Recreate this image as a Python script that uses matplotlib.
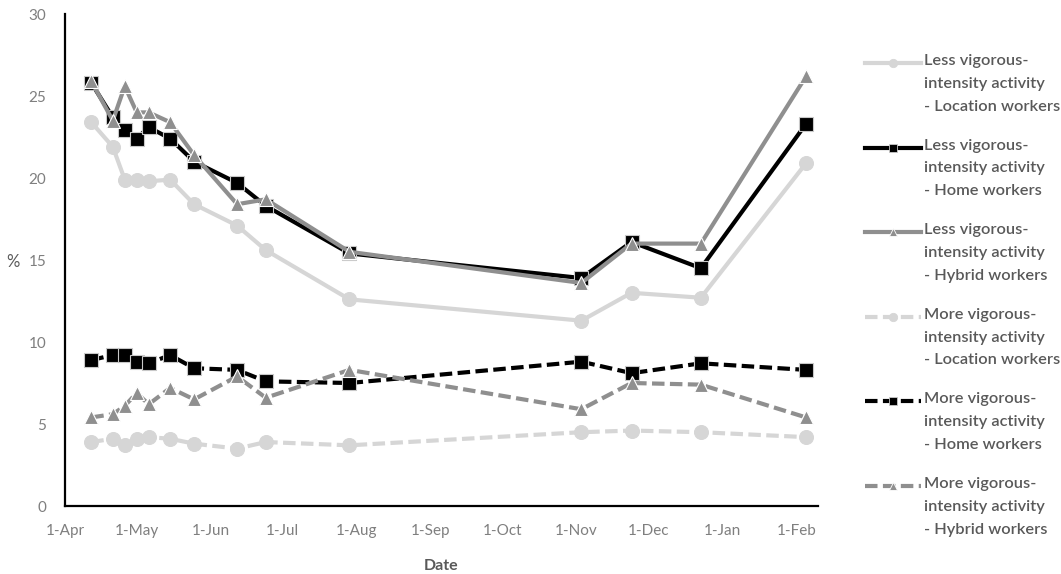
import pandas as pd
import matplotlib.pyplot as plt
from matplotlib.lines import Line2D

plt.rcParams['font.family'] = ['Lato', 'DejaVu Sans']

dates = ['2020-04-12', '2020-04-21', '2020-04-26', '2020-05-01', '2020-05-06',
         '2020-05-15', '2020-05-25', '2020-06-12', '2020-06-24', '2020-07-29',
         '2020-11-03', '2020-11-24', '2020-12-23', '2021-02-05']

less_location = [23.4, 21.9, 19.9, 19.9, 19.8, 19.9, 18.4, 17.1, 15.6, 12.6, 11.3, 13.0, 12.7, 20.9]
less_home = [25.8, 23.7, 22.9, 22.4, 23.1, 22.4, 21.0, 19.7, 18.3, 15.4, 13.9, 16.1, 14.5, 23.3]
less_hybrid = [25.9, 23.5, 25.6, 24.0, 24.0, 23.4, 21.4, 18.4, 18.7, 15.5, 13.6, 16.0, 16.0, 26.2]
more_location = [3.9, 4.1, 3.7, 4.1, 4.2, 4.1, 3.8, 3.5, 3.9, 3.7, 4.5, 4.6, 4.5, 4.2]
more_home = [8.9, 9.2, 9.2, 8.8, 8.7, 9.2, 8.4, 8.3, 7.6, 7.5, 8.8, 8.1, 8.7, 8.3]
more_hybrid = [5.4, 5.6, 6.1, 6.9, 6.2, 7.2, 6.5, 7.9, 6.6, 8.3, 5.9, 7.5, 7.4, 5.4]

labels = ['Less vigorous-\nintensity activity\n- Location workers',
          'Less vigorous-\nintensity activity\n- Home workers',
          'Less vigorous-\nintensity activity\n- Hybrid workers',
          'More vigorous-\nintensity activity\n- Location workers',
          'More vigorous-\nintensity activity\n- Home workers',
          'More vigorous-\nintensity activity\n- Hybrid workers']

x = pd.to_datetime(dates)
month_ticks = pd.date_range('2020-04-01', '2021-02-01', freq='MS')
month_labels = [f'{d.day}-{d:%b}' for d in month_ticks]

light = '#d6d6d6'
mid = '#8f8f8f'
dash = (3, 1.3)

styles = [
    dict(color=light, marker='o', mec=light, ls='-'),
    dict(color='black', marker='s', mec='#c8c8c8', ls='-'),
    dict(color=mid, marker='^', mec='white', ls='-'),
    dict(color=light, marker='o', mec=light, ls=(0, dash)),
    dict(color='black', marker='s', mec='#c8c8c8', ls=(0, dash)),
    dict(color=mid, marker='^', mec='white', ls=(0, dash)),
]
series = [less_location, less_home, less_hybrid, more_location, more_home, more_hybrid]

fig = plt.figure(figsize=(10.61, 5.74), dpi=100)
ax = fig.add_axes([65 / 1061, 1 - 506 / 574, (818 - 65) / 1061, (506 - 14) / 574])

for y, st in zip(series, styles):
    ax.plot(x, y, lw=3, ms=10, mew=0.8, **st)

ax.set_ylim(0, 30)
ax.set_yticks(range(0, 31, 5))
ax.set_xlim(pd.Timestamp('2020-04-01'), pd.Timestamp('2021-02-10'))
ax.set_xticks(month_ticks)
ax.set_xticklabels(month_labels)
ax.tick_params(length=0, labelsize=11, labelcolor='#7f7f7f')
ax.tick_params(axis='x', pad=13)
ax.tick_params(axis='y', pad=13.5)
for s in ['top', 'right']:
    ax.spines[s].set_visible(False)
for s in ['left', 'bottom']:
    ax.spines[s].set_linewidth(1.6)
    ax.spines[s].set_color('black')

ax.set_xlabel('Date', fontsize=11.5, color='#595959', fontweight='bold', labelpad=15)
fig.text(13 / 1061, 1 - 262 / 574, '%', fontsize=12, color='#595959', ha='center', va='center')

# legend drawn by hand so the handle sits on the first text line
for i, (lab, st) in enumerate(zip(labels, styles)):
    yy = 1 - (63 + i * 84.6) / 574
    fig.add_artist(Line2D([865 / 1061, 893 / 1061, 921 / 1061], [yy, yy, yy],
                          transform=fig.transFigure, lw=3, ms=6, mew=0.6,
                          markevery=[1], **st))
    fig.text(924 / 1061, yy + 9 / 574, lab, fontsize=11.8, color='#595959',
             fontweight='semibold', va='top', ha='left', linespacing=1.8)

fig.savefig('out.png', dpi=100)
